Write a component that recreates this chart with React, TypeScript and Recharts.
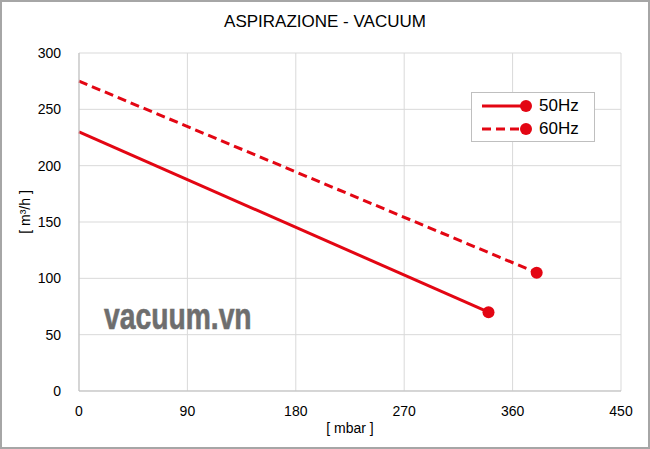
import React from "react";
import { LineChart, Line, XAxis, YAxis, CartesianGrid } from "recharts";

const title = "ASPIRAZIONE - VACUUM";
const xTicks = [0, 90, 180, 270, 360, 450];
const yTicks = [0, 50, 100, 150, 200, 250, 300];
const x50 = [0, 340];
const y50 = [230, 70];
const x60 = [0, 380];
const y60 = [275, 105];
const seriesNames = ["50Hz", "60Hz"];

const data50 = x50.map((x, i) => ({ x, y: y50[i] }));
const data60 = x60.map((x, i) => ({ x, y: y60[i] }));

const RED = "#e30613";
const FONT = "'Liberation Sans', Arial, sans-serif";

const endDot = (len: number) => (props: any) => {
  const { cx, cy, index } = props;
  if (index !== len - 1) return <g key={`d${index}`} />;
  return <circle key={`d${index}`} cx={cx} cy={cy} r={6} fill={RED} stroke="none" />;
};

const LegendBox = () => (
  <div
    style={{
      position: "absolute",
      left: 471,
      top: 92,
      width: 124,
      height: 50,
      border: "1px solid #bfbfbf",
      background: "#fff",
      fontFamily: FONT,
      fontSize: 17,
      color: "#000",
      boxSizing: "border-box",
      zIndex: 4,
    }}
  >
    {seriesNames.map((n, i) => (
      <div key={n} style={{ display: "flex", alignItems: "center", height: 23, marginTop: i === 0 ? 1 : 0 }}>
        <svg width={58} height={14} style={{ marginLeft: 8 }}>
          <line x1={2} y1={7} x2={46} y2={7} stroke={RED} strokeWidth={3} strokeDasharray={i === 1 ? "9 5" : undefined} />
          <circle cx={46} cy={7} r={6} fill={RED} />
        </svg>
        <span style={{ marginLeft: 1 }}>{n}</span>
      </div>
    ))}
  </div>
);

export default function App() {
  return (
    <div style={{ position: "absolute", left: 0, top: 0, width: 650, height: 449, background: "#fff" }}>
      <div
        style={{
          position: "absolute",
          left: 0,
          top: 0,
          width: 650,
          height: 449,
          border: "2px solid #a6a6a6",
          boxSizing: "border-box",
          pointerEvents: "none",
          zIndex: 5,
        }}
      />
      <div
        style={{
          position: "absolute",
          left: 0,
          top: 12,
          width: 650,
          textAlign: "center",
          fontFamily: FONT,
          fontSize: 17,
          color: "#000",
          zIndex: 3,
        }}
      >
        {title}
      </div>
      <div
        style={{
          position: "absolute",
          left: 104,
          top: 297,
          fontFamily: FONT,
          fontWeight: "bold",
          fontSize: 36,
          lineHeight: "40px",
          color: "#6e6e6e",
          WebkitTextStroke: "0.6px #6e6e6e",
          transform: "scaleX(0.785)",
          transformOrigin: "0 0",
          zIndex: 3,
        }}
      >
        vacuum.vn
      </div>
      <LegendBox />
      <LineChart width={650} height={449} margin={{ top: 53, right: 29, bottom: 28, left: 29 }}>
        <CartesianGrid stroke="#d9d9d9" strokeWidth={1} vertical={true} horizontal={true} />
        <XAxis
          type="number"
          dataKey="x"
          domain={[0, 450]}
          ticks={xTicks}
          allowDuplicatedCategory={false}
          axisLine={{ stroke: "#bfbfbf" }}
          tickLine={false}
          tick={{ fill: "#000", fontSize: 14, fontFamily: FONT }}
          tickMargin={9}
          height={30}
          label={{ value: "[ mbar ]", position: "insideBottom", offset: -12, fill: "#000", fontSize: 14, fontFamily: FONT }}
        />
        <YAxis
          type="number"
          dataKey="y"
          domain={[0, 300]}
          ticks={yTicks}
          axisLine={{ stroke: "#bfbfbf" }}
          tickLine={false}
          tick={{ fill: "#000", fontSize: 14, fontFamily: FONT }}
          tickMargin={12}
          width={50}
          label={{ value: "[ m³/h ]", angle: -90, position: "insideLeft", offset: -4, dy: -10, fill: "#000", fontSize: 14, fontFamily: FONT, style: { textAnchor: "middle" } }}
        />
        <Line
          data={data50}
          dataKey="y"
          name={seriesNames[0]}
          stroke={RED}
          strokeWidth={3}
          dot={endDot(data50.length)}
          activeDot={false}
          isAnimationActive={false}
        />
        <Line
          data={data60}
          dataKey="y"
          name={seriesNames[1]}
          stroke={RED}
          strokeWidth={3}
          strokeDasharray="9 5"
          dot={endDot(data60.length)}
          activeDot={false}
          isAnimationActive={false}
        />
      </LineChart>
    </div>
  );
}
